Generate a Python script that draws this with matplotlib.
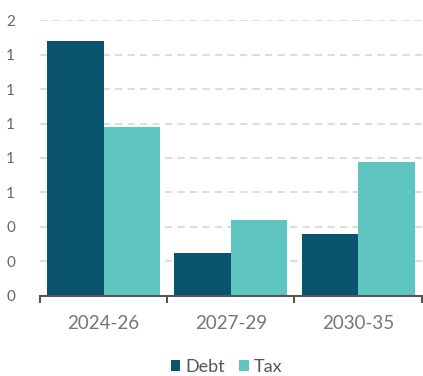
import matplotlib
matplotlib.use("Agg")
import matplotlib.pyplot as plt
import numpy as np
from matplotlib.ticker import FuncFormatter

plt.rcParams['font.family'] = ['Lato', 'DejaVu Sans']

# data
periods = ["2024-26", "2027-29", "2030-35"]
debt = [1.48, 0.245, 0.357]
tax = [0.98, 0.44, 0.775]
yticks = [0, 0.2, 0.4, 0.6, 0.8, 1.0, 1.2, 1.4, 1.6]

debt_col = "#0B546F"
tax_col = "#5EC5C1"

fig = plt.figure(figsize=(4.23, 3.76), dpi=100)
ax = fig.add_axes([40/423, (376-295.5)/376, (421.7-40)/423, (295.5-20.3)/376])

x = np.arange(len(periods))
w = 0.444
ax.bar(x - w/2, debt, w, color=debt_col, label="Debt", zorder=3)
ax.bar(x + w/2, tax, w, color=tax_col, label="Tax", zorder=3)

ax.set_xlim(-0.5, len(periods) - 0.5)
ax.set_ylim(0, 1.6)
ax.set_yticks(yticks)
ax.yaxis.set_major_formatter(FuncFormatter(lambda v, p: f"{v:.0f}"))

# dashed grid lines (not at zero)
for v in yticks[1:]:
    ax.axhline(v, color="#dddddd", lw=1.5, dashes=(3.5, 2.5), zorder=1)

for s in ["left", "top", "right"]:
    ax.spines[s].set_visible(False)
ax.spines["bottom"].set_color("#555555")
ax.spines["bottom"].set_linewidth(1.5)
ax.spines["bottom"].set_zorder(4)

ax.tick_params(axis="y", length=0, pad=18, labelsize=11, labelcolor="#666666")
ax.set_xticks(x)
ax.set_xticklabels(periods)
ax.tick_params(axis="x", which="major", length=0, pad=14, labelsize=13.5, labelcolor="#777777")
ax.set_xticks(np.arange(len(periods) + 1) - 0.5, minor=True)
ax.tick_params(axis="x", which="minor", length=5, width=1.5, color="#555555")

fig.legend(loc="center", bbox_to_anchor=(0.535, 1 - 367/376), ncol=2, frameon=False,
           fontsize=13, handlelength=0.55, handleheight=0.55, handletextpad=0.25,
           columnspacing=0.8, labelcolor="#555555")

fig.savefig("out.png", dpi=100)
